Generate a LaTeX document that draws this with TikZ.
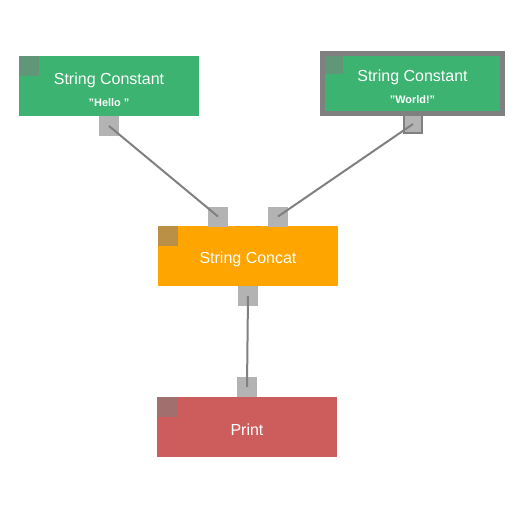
\documentclass[tikz,border=0pt]{standalone}
\usepackage{fontspec}
\setmainfont{Liberation Sans}
\definecolor{cgreen}{HTML}{3CB371}
\definecolor{corange}{HTML}{FFA500}
\definecolor{cred}{HTML}{CD5C5C}
\definecolor{cport}{HTML}{B3B3B3}
\definecolor{cline}{HTML}{808080}
\tikzset{
  block/.style={rectangle, inner sep=0pt, minimum width=135pt, minimum height=45pt, draw=none},
  port/.style={rectangle, inner sep=0pt, minimum width=15pt, minimum height=15pt, fill=cport, draw=none},
  corner/.style={rectangle, inner sep=0pt, minimum width=15pt, minimum height=15pt, fill=cline, fill opacity=0.55, draw=none, anchor=north west},
  title/.style={text=white, font=\fontsize{12}{14}\selectfont, inner sep=0pt},
  sub/.style={text=white, font=\fontsize{8.2}{10}\bfseries\selectfont, inner sep=0pt},
  wire/.style={draw=cline, line width=1.5pt},
  edge/.style={draw=white, draw opacity=0.35, line width=0.75pt}
}
\begin{document}
\begin{tikzpicture}[x=0.75pt,y=-0.75pt]
\useasboundingbox (0,0) rectangle (526,526);
% node 1
\node[block, fill=cgreen] (n1) at (109,86) {};
\node[corner] (n1c) at (n1.north west) {};
\draw[edge] (n1.north west) -- (n1.north east);
\draw[edge] (n1.south west) -- (n1.south east);
\node[title] (n1t) at (109,80) {String Constant};
\node[sub] (n1s) at (109,103) {"Hello "};
% node 2 (selected)
\node[block, fill=cgreen] (n2) at (412.5,83.5) {};
\node[corner] (n2c) at (n2.north west) {};
\draw[cline, line width=3.75pt] (n2.north west) rectangle (n2.south east);
\node[title] (n2t) at (412.5,77) {String Constant};
\node[sub] (n2s) at (412.5,99.5) {"World!"};
% node 3
\node[block, fill=corange] (n3) at (248,256) {};
\node[corner] (n3c) at (n3.north west) {};
\draw[edge] (n3.north west) -- (n3.north east);
\draw[edge] (n3.south west) -- (n3.south east);
\node[title] (n3t) at (248,259) {String Concat};
% node 4
\node[block, fill=cred] (n4) at (247,427) {};
\node[corner] (n4c) at (n4.north west) {};
\draw[edge] (n4.north west) -- (n4.north east);
\draw[edge] (n4.south west) -- (n4.south east);
\node[title] (n4t) at (247,430) {Print};
% ports
\node[port] (p1) at (109,126) {};
\node[port, draw=cline, line width=1.5pt, minimum width=13.5pt, minimum height=13.5pt] (p2) at (413,124) {};
\node[port] (p3a) at (218,216.5) {};
\node[port] (p3b) at (278,216.5) {};
\node[port] (p3o) at (248,296) {};
\node[port] (p4) at (247,387) {};
% wires
\draw[wire] (p1.center) -- (p3a.center);
\draw[wire] (p2.center) -- (p3b.center);
\draw[wire] (p3o.center) -- (p4.center);
\end{tikzpicture}
\end{document}
